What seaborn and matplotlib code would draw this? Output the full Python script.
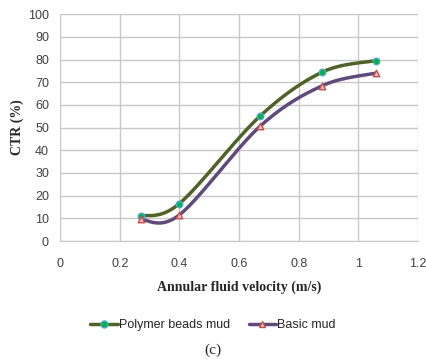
import numpy as np
import pandas as pd
import matplotlib
matplotlib.use("Agg")
import matplotlib.pyplot as plt
import seaborn as sns
from matplotlib.lines import Line2D

velocity = [0.27, 0.40, 0.67, 0.88, 1.06]
polymer_ctr = [11.0, 16.5, 55.0, 74.5, 79.5]
basic_ctr = [9.5, 11.5, 50.5, 68.5, 74.0]
x_ticks = [0, 0.2, 0.4, 0.6, 0.8, 1, 1.2]
x_tick_labels = ["0", "0.2", "0.4", "0.6", "0.8", "1", "1.2"]
y_ticks = [0, 10, 20, 30, 40, 50, 60, 70, 80, 90, 100]


def smooth_curve(x, y, n=40):
    """Excel-like smoothed line (Catmull-Rom style bezier) through the points."""
    pts = np.column_stack([x, y])
    p = np.vstack([pts[0], pts, pts[-1]])
    out = []
    for i in range(1, len(p) - 2):
        p0, p1, p2, p3 = p[i - 1], p[i], p[i + 1], p[i + 2]
        c1 = p1 + (p2 - p0) / 6.0
        c2 = p2 - (p3 - p1) / 6.0
        t = np.linspace(0, 1, n)[:, None]
        seg = ((1 - t) ** 3) * p1 + 3 * ((1 - t) ** 2) * t * c1 + 3 * (1 - t) * t ** 2 * c2 + t ** 3 * p2
        out.append(seg if i == 1 else seg[1:])
    seg = np.vstack(out)
    return seg[:, 0], seg[:, 1]


sns.set_style("white")
plt.rcParams["font.family"] = ["Liberation Sans Narrow", "Liberation Sans", "DejaVu Sans"]

fig = plt.figure(figsize=(4.26, 3.63), dpi=100)
ax = fig.add_axes([0.141, 0.336, 0.840, 0.625])

poly_color = "#4f6228"
basic_color = "#604a7b"

sx, sy = smooth_curve(velocity, polymer_ctr)
sns.lineplot(x=sx, y=sy, ax=ax, color=poly_color, linewidth=2.5, sort=False, zorder=3)
sx, sy = smooth_curve(velocity, basic_ctr)
sns.lineplot(x=sx, y=sy, ax=ax, color=basic_color, linewidth=2.5, sort=False, zorder=3)

ax.scatter(velocity, polymer_ctr, marker="o", s=22, color="#00b050",
           edgecolor="#4bacc6", linewidth=1.0, zorder=4)
ax.scatter(velocity, basic_ctr, marker="^", s=22, color="#f2b8b6",
           edgecolor="#c0504d", linewidth=1.0, zorder=4)

ax.set_xlim(0, 1.2)
ax.set_ylim(0, 100)
ax.set_xticks(x_ticks)
ax.set_xticklabels(x_tick_labels)
ax.set_yticks(y_ticks)
ax.grid(True, color="#c8c8c8", linewidth=1.0)
ax.set_axisbelow(True)
for s in ["top", "right", "left"]:
    ax.spines[s].set_visible(False)
ax.spines["bottom"].set_color("#c8c8c8")
ax.tick_params(axis="both", length=0, labelsize=9, colors="#404040")
ax.tick_params(axis="x", pad=12)
ax.tick_params(axis="y", pad=8)

ax.set_xlabel("Annular fluid velocity (m/s)", fontfamily="Liberation Serif",
              fontweight="bold", fontsize=10, labelpad=8)
ax.set_ylabel("CTR (%)", fontfamily="Liberation Serif", fontweight="bold",
              fontsize=10, labelpad=3)

handles = [
    Line2D([], [], color=poly_color, linewidth=2.5, marker="o", markersize=5,
           markerfacecolor="#00b050", markeredgecolor="#4bacc6"),
    Line2D([], [], color=basic_color, linewidth=2.5, marker="^", markersize=5,
           markerfacecolor="#f2b8b6", markeredgecolor="#c0504d"),
]
fig.legend(handles, ["Polymer beads mud", "Basic mud"], loc="center",
           bbox_to_anchor=(0.5, 0.105), ncol=2, frameon=False, fontsize=9,
           handlelength=2.2, handletextpad=0.1, columnspacing=1.5)
fig.text(0.5, 0.035, "(c)", ha="center", va="center",
         fontfamily="Liberation Serif", fontsize=11)

fig.savefig("out.png", dpi=100)
